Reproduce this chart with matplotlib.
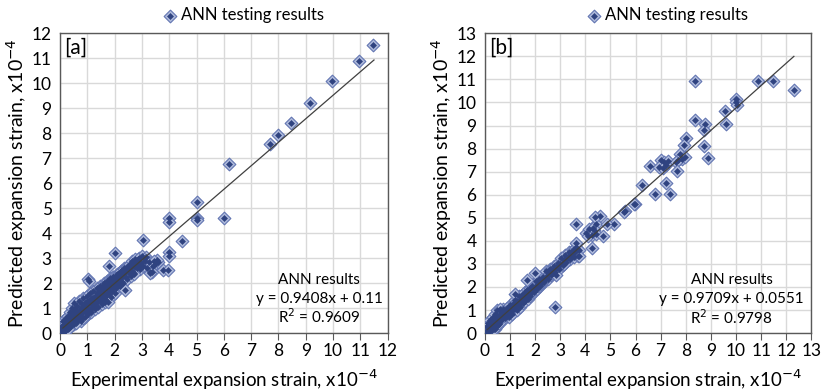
import matplotlib
matplotlib.use("Agg")
import matplotlib.pyplot as plt
from matplotlib.legend_handler import HandlerTuple

plt.rcParams["font.family"] = ["Lato", "DejaVu Sans"]

# panel [a] - ANN testing results (x = experimental, y = predicted), x10^-4
a_x = [0.05, 0.08, 0.10, 0.10, 0.12, 0.15, 0.18, 0.20, 0.20, 0.22, 0.25, 0.28, 0.30, 0.30,
       0.32, 0.35, 0.38, 0.40, 0.40, 0.42, 0.45, 0.48, 0.50, 0.50, 0.52, 0.55, 0.58, 0.60,
       0.62, 0.65, 0.68, 0.70, 0.72, 0.75, 0.78, 0.80, 0.82, 0.85, 0.88, 0.90, 0.92, 0.95,
       0.98, 1.00, 1.02, 1.05, 1.08, 1.10, 1.12, 1.15, 1.18, 1.20, 1.22, 1.25, 1.28, 1.30,
       1.32, 1.35, 1.38, 1.40, 1.42, 1.45, 1.48, 1.50, 1.52, 1.55, 1.58, 1.60, 1.62, 1.65,
       1.68, 1.70, 1.72, 1.75, 1.78, 1.80, 1.82, 1.85, 1.88, 1.90, 1.92, 1.95, 1.98, 2.00,
       2.02, 2.05, 2.10, 2.12, 2.15, 2.20, 2.22, 2.25, 2.30, 2.32, 2.35, 2.40, 2.42, 2.45,
       2.50, 2.52, 2.55, 2.60, 2.62, 2.65, 2.70, 2.72, 2.75, 2.80, 2.85, 2.90, 2.92, 2.95,
       3.00, 3.05, 3.10, 3.15, 3.20, 3.25, 3.30, 3.40, 3.50, 3.60, 0.10, 0.25, 0.45, 0.65,
       0.35, 0.55, 0.75, 0.95, 1.15, 1.35, 1.55, 1.75, 1.95, 2.15, 2.35, 2.55, 2.75, 0.15,
       0.30, 0.60, 0.85, 1.05, 1.25, 1.45, 1.65, 1.85, 2.05, 2.28, 2.48, 2.68, 2.88, 3.08,
       0.05, 0.15, 0.25, 0.35, 0.45, 0.55, 0.65, 0.75, 0.85, 0.95, 1.05, 1.15, 1.25, 1.35,
       1.45, 1.55, 1.65, 1.75, 1.85, 1.95, 2.05, 2.15, 2.25, 2.35, 2.45, 2.55, 2.65, 2.75,
       2.85, 0.20, 0.40, 0.60, 0.80, 1.00, 1.20, 1.40, 1.60, 1.80, 2.00, 2.20, 2.40, 2.60,
       # outliers
       11.46, 10.96, 9.97, 9.17, 8.46, 8.00, 7.69, 6.18, 5.00, 5.00, 5.00, 6.00, 4.00, 4.00,
       4.46, 3.03, 4.00, 4.00, 3.78, 3.97, 2.01, 1.01, 1.78, 2.38, 1.75, 3.36, 2.69, 3.54,
       1.05, 3.30, 3.45]
a_y = [0.10, 0.30, 0.05, 0.50, 0.20, 0.35, 0.10, 0.60, 0.25, 0.45, 0.15, 0.70, 0.35, 0.55,
       0.20, 0.85, 0.45, 0.30, 0.65, 1.00, 0.50, 0.80, 0.35, 1.20, 0.60, 0.95, 0.45, 0.75,
       1.10, 0.55, 0.90, 1.30, 0.65, 1.00, 0.50, 1.15, 0.80, 1.40, 0.95, 0.65, 1.20, 0.85,
       1.50, 1.05, 0.75, 1.30, 0.95, 1.60, 1.15, 0.85, 1.40, 1.05, 1.70, 1.25, 0.95, 1.50,
       1.20, 1.80, 1.35, 1.05, 1.60, 1.30, 1.90, 1.45, 1.15, 1.70, 1.40, 2.00, 1.55, 1.25,
       1.80, 1.50, 2.10, 1.65, 1.95, 1.55, 2.20, 1.75, 1.45, 2.00, 1.70, 2.25, 1.85, 1.60,
       2.10, 1.80, 2.35, 1.95, 2.20, 1.90, 2.50, 2.10, 2.35, 2.00, 2.60, 2.25, 2.50, 2.15,
       2.70, 2.40, 2.60, 2.30, 2.80, 2.50, 2.70, 2.40, 2.90, 2.60, 2.80, 3.00, 2.55, 2.80,
       3.10, 2.70, 2.90, 3.05, 2.60, 2.85, 2.45, 2.70, 2.80, 2.85, 0.30, 0.40, 0.70, 0.75,
       0.60, 0.80, 0.85, 1.10, 1.25, 1.45, 1.60, 1.80, 2.05, 2.05, 2.40, 2.50, 2.65, 0.20,
       0.15, 0.40, 0.60, 0.90, 1.10, 1.65, 1.35, 2.05, 1.95, 2.25, 2.60, 2.85, 2.70, 2.95,
       0.20, 0.25, 0.45, 0.50, 0.60, 0.70, 0.80, 0.90, 1.00, 1.20, 1.25, 1.35, 1.45, 1.60,
       1.70, 1.85, 1.90, 2.00, 2.15, 2.25, 2.30, 2.40, 2.50, 2.55, 2.65, 2.75, 2.90, 2.95,
       2.95, 0.40, 0.55, 0.90, 0.95, 1.30, 1.35, 1.55, 1.75, 1.90, 2.20, 2.30, 2.50, 2.70,
       11.52, 10.90, 10.08, 9.19, 8.41, 7.92, 7.56, 6.75, 5.23, 4.61, 4.52, 4.61, 4.61, 4.45,
       3.68, 3.72, 3.25, 3.10, 2.52, 2.52, 3.19, 2.16, 2.68, 1.72, 1.24, 2.45, 2.35, 2.92,
       2.10, 2.40, 2.90]

# panel [b]
b_x = [0.05, 0.08, 0.10, 0.12, 0.15, 0.18, 0.20, 0.22, 0.25, 0.28, 0.30, 0.32, 0.35, 0.38,
       0.40, 0.42, 0.45, 0.48, 0.50, 0.50, 0.52, 0.55, 0.58, 0.60, 0.62, 0.65, 0.68, 0.70,
       0.72, 0.75, 0.78, 0.80, 0.85, 0.88, 0.90, 0.95, 0.98, 1.00, 1.05, 1.08, 1.10, 1.15,
       1.18, 1.20, 1.25, 1.28, 1.30, 1.35, 1.38, 1.40, 1.45, 1.50, 1.52, 1.55, 1.60, 1.62,
       1.65, 1.70, 1.72, 1.75, 1.80, 1.82, 1.85, 1.90, 1.95, 2.00, 2.05, 2.08, 2.10, 2.15,
       2.20, 2.25, 2.30, 2.35, 2.40, 2.45, 2.50, 2.55, 2.60, 2.65, 2.70, 2.75, 2.80, 2.85,
       2.90, 2.95, 3.00, 3.05, 3.10, 3.15, 3.20, 3.25, 3.30, 3.35, 3.40, 3.45, 3.50, 3.55,
       3.60, 3.65, 3.70, 3.75, 0.60, 1.20, 1.70, 2.00, 0.30, 0.70, 1.10, 1.50, 1.90, 2.30,
       2.70, 3.10, 0.15, 0.45, 0.85, 1.35, 1.80, 2.25, 2.65, 3.15, 0.35, 0.55, 0.95, 1.45,
       0.10, 0.20, 0.30, 0.40, 0.50, 0.60, 0.70, 0.80, 0.90, 1.00, 1.10, 1.20, 1.30, 1.40,
       1.50, 1.60, 1.70, 1.80, 1.90, 2.00, 2.10, 2.20, 2.30, 2.40, 2.50, 2.60, 2.70, 2.80,
       2.90, 3.00, 3.20, 3.40, 3.60,
       # outliers
       12.31, 11.46, 10.88, 8.35, 9.98, 9.98, 10.02, 9.55, 9.58, 8.38, 8.75, 8.72, 8.74, 8.90,
       8.02, 7.91, 7.78, 7.85, 7.95, 7.70, 6.56, 7.02, 7.12, 7.20, 6.95, 7.08, 7.28, 7.60,
       7.64, 7.20, 6.26, 6.78, 7.38, 5.99, 5.58, 5.14, 4.60, 4.44, 3.64, 4.03, 4.15, 4.25,
       4.35, 4.43, 4.10, 4.30, 4.70, 4.28, 2.78, 2.85, 3.77, 3.64, 4.37, 4.88, 5.54, 5.94]
b_y = [0.10, 0.30, 0.05, 0.45, 0.20, 0.35, 0.10, 0.55, 0.30, 0.15, 0.45, 0.70, 0.30, 0.55,
       0.20, 0.85, 0.45, 0.65, 0.30, 1.00, 0.55, 0.80, 0.40, 0.70, 1.00, 0.55, 0.85, 0.60,
       1.05, 0.75, 0.95, 0.65, 0.90, 1.10, 0.75, 1.00, 0.70, 1.20, 0.95, 1.15, 0.85, 1.30,
       1.05, 1.45, 1.20, 1.00, 1.40, 1.25, 1.60, 1.15, 1.45, 1.65, 1.30, 1.55, 1.80, 1.40,
       1.65, 1.85, 1.50, 1.75, 1.95, 1.60, 1.85, 2.05, 1.80, 2.00, 2.25, 1.90, 2.10, 2.35,
       2.05, 2.25, 2.45, 2.20, 2.40, 2.70, 2.35, 2.55, 2.80, 2.50, 2.70, 2.90, 2.65, 2.85,
       3.05, 2.80, 3.00, 3.25, 2.95, 3.15, 3.40, 3.10, 3.30, 3.50, 3.20, 3.45, 3.60, 3.30,
       3.50, 3.75, 3.35, 3.60, 1.05, 1.70, 2.30, 2.60, 0.50, 0.90, 1.05, 1.45, 1.90, 2.25,
       2.60, 3.05, 0.25, 0.35, 0.80, 1.35, 1.70, 2.15, 2.75, 3.00, 0.20, 0.45, 0.90, 1.60,
       0.25, 0.25, 0.30, 0.45, 0.60, 0.60, 0.80, 0.85, 0.95, 1.05, 1.15, 1.25, 1.30, 1.45,
       1.50, 1.65, 1.70, 1.80, 1.90, 2.00, 2.05, 2.20, 2.30, 2.35, 2.50, 2.60, 2.65, 2.80,
       2.85, 3.00, 3.15, 3.35, 3.55,
       10.53, 10.92, 10.95, 10.92, 10.13, 10.00, 9.87, 9.62, 9.07, 9.26, 9.07, 8.80, 8.10, 7.61,
       8.46, 8.15, 7.76, 7.55, 7.65, 7.50, 7.25, 7.50, 7.40, 7.30, 7.20, 7.15, 7.45, 7.42,
       7.02, 6.49, 6.41, 6.05, 6.05, 5.59, 5.29, 4.72, 5.07, 4.75, 4.71, 4.35, 4.50, 4.25,
       4.45, 4.30, 4.20, 4.55, 4.20, 3.67, 1.14, 2.51, 3.33, 3.89, 5.04, 4.71, 5.26, 5.59]

panels = [
    dict(x=a_x, y=a_y, lim=12, tag="[a]", slope=0.9408, icpt=0.11, fit_end=11.5,
         eq="y = 0.9408x + 0.11", r2="R$^2$ = 0.9609", tx=9.49, ty=[2.12, 1.36, 0.64],
         left=0.073, width=0.398),
    dict(x=b_x, y=b_y, lim=13, tag="[b]", slope=0.9709, icpt=0.0551, fit_end=12.3,
         eq="y = 0.9709x + 0.0551", r2="R$^2$ = 0.9798", tx=9.82, ty=[2.30, 1.47, 0.69],
         left=0.589, width=0.397),
]

fig = plt.figure(figsize=(8.23, 3.91), dpi=100)

for p in panels:
    ax = fig.add_axes([p["left"], 0.148, p["width"], 0.767])
    ax.set_xlim(0, p["lim"])
    ax.set_ylim(0, p["lim"])
    ticks = list(range(p["lim"] + 1))
    ax.set_xticks(ticks)
    ax.set_yticks(ticks)
    ax.grid(True, color="#d9d9d9", linewidth=1.0)
    ax.set_axisbelow(True)
    for s in ax.spines.values():
        s.set_color("#595959")
        s.set_linewidth(1.0)
    ax.tick_params(axis="x", length=5, color="#595959", labelsize=12.5, pad=2)
    ax.tick_params(axis="y", length=0, labelsize=12.5, pad=6)

    outer = ax.scatter(p["x"], p["y"], marker="D", s=42, facecolor="#aebadb",
                       edgecolor="#6376b2", linewidth=0.8, zorder=3)
    inner = ax.scatter(p["x"], p["y"], marker="D", s=9, facecolor="#2f4380",
                       edgecolor="#2f4380", linewidth=0.5, zorder=4)

    fx = [0.1, p["fit_end"]]
    fy = [p["slope"] * v + p["icpt"] for v in fx]
    ax.plot(fx, fy, color="#404040", linewidth=0.9, zorder=5)

    ax.text(0.012, 0.985, p["tag"], transform=ax.transAxes, ha="left", va="top",
            fontsize=15, zorder=6)
    for line, yy in zip(["ANN results", p["eq"], p["r2"]], p["ty"]):
        ax.text(p["tx"], yy, line, ha="center", va="center", fontsize=11, zorder=6)

    ax.set_xlabel("Experimental expansion strain, x10$^{-4}$", fontsize=13.5, labelpad=6)
    ax.set_ylabel("Predicted expansion strain, x10$^{-4}$", fontsize=14, labelpad=2)

    ax.legend([(outer, inner)], ["ANN testing results"], loc="lower center",
              bbox_to_anchor=(0.56, 0.995), frameon=False, fontsize=12,
              handler_map={tuple: HandlerTuple(ndivide=1, pad=0)},
              handlelength=0.8, handletextpad=0.3, borderpad=0.2)

fig.savefig("out.png", dpi=100)
